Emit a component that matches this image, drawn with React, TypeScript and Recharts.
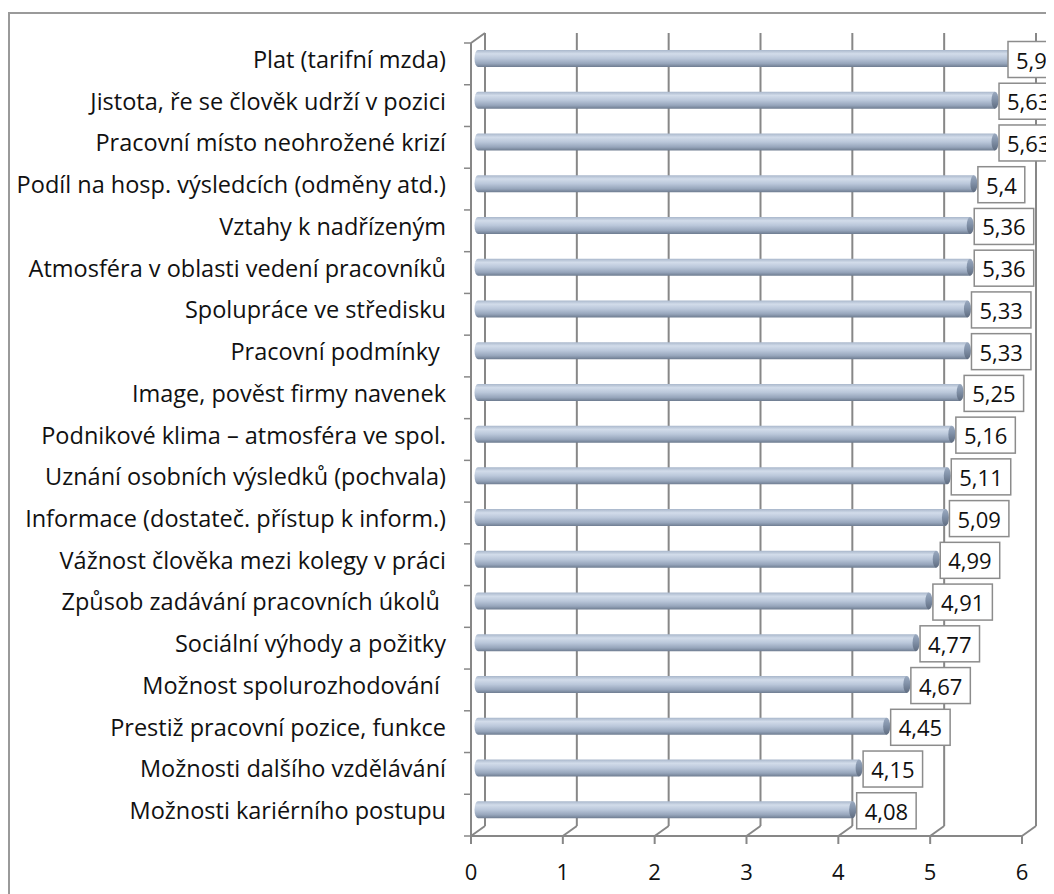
import { Bar, BarChart, CartesianGrid, LabelList, XAxis, YAxis } from "recharts";

const categories = [
  "Plat (tarifní mzda)",
  "Jistota, ře se člověk udrží v pozici",
  "Pracovní místo neohrožené krizí",
  "Podíl na hosp. výsledcích (odměny atd.)",
  "Vztahy k nadřízeným",
  "Atmosféra v oblasti vedení pracovníků",
  "Spolupráce ve středisku",
  "Pracovní podmínky ",
  "Image, pověst firmy navenek",
  "Podnikové klima – atmosféra ve spol.",
  "Uznání osobních výsledků (pochvala)",
  "Informace (dostateč. přístup k inform.)",
  "Vážnost člověka mezi kolegy v práci",
  "Způsob zadávání pracovních úkolů ",
  "Sociální výhody a požitky",
  "Možnost spolurozhodování ",
  "Prestiž pracovní pozice, funkce",
  "Možnosti dalšího vzdělávání",
  "Možnosti kariérního postupu",
];

const scores = [
  5.99, 5.63, 5.63, 5.4, 5.36, 5.36, 5.33, 5.33, 5.25, 5.16, 5.11, 5.09, 4.99,
  4.91, 4.77, 4.67, 4.45, 4.15, 4.08,
];

const xTicks = [0, 1, 2, 3, 4, 5, 6];

const data = categories.map((name, i) => ({ name, score: scores[i] }));

// fake 3D: back wall sits DX/DY away from the front plane, bars halfway
const DX = 14;
const DY = 10;
const LINE = "#878787";
const FONT = "'Open Sans', Lato, sans-serif";
const AXIS_MAX = xTicks[xTicks.length - 1];

const fmt = (v: number) => String(v).replace(".", ",");

function Cylinder(props: any) {
  const { x, y, width, height } = props;
  const bx = x + DX / 2;
  const by = y - DY / 2;
  const ry = height / 2;
  const rx = 3.5;
  return (
    <g>
      <path
        d={`M${bx},${by} H${bx + width} V${by + height} H${bx} A${rx},${ry} 0 0 1 ${bx},${by} Z`}
        fill="url(#cylBody)"
      />
      <ellipse cx={bx + width} cy={by + ry} rx={rx} ry={ry} fill="url(#cylCap)" />
    </g>
  );
}

function ValueBox(props: any) {
  const { x, y, width, height, value } = props;
  const fs = 22;
  const text = fmt(value);
  const textW = [...text].reduce((s, c) => s + (c === "," ? 0.26 : 0.572) * fs, 0);
  const w = textW + 16;
  const h = 36;
  const plotRight = x + (width / value) * AXIS_MAX;
  const bx = Math.min(x + width + DX / 2 + 4, plotRight - DX);
  const cy = y + height / 2 - DY / 2 + 1;
  return (
    <g>
      <rect x={bx} y={cy - h / 2} width={w} height={h} fill="#fff" stroke="#8c8c8c" strokeWidth={1.5} />
      <text
        x={bx + w / 2}
        y={cy}
        textAnchor="middle"
        dominantBaseline="central"
        fontFamily={FONT}
        fontSize={fs}
        fill="#111"
      >
        {text}
      </text>
    </g>
  );
}

function CategoryTick(props: any) {
  const { x, y, payload, index } = props;
  const half = payload.offset ?? 0;
  const top = y - half;
  const bottom = y + half;
  return (
    <g>
      <line x1={x - 7} y1={top} x2={x} y2={top} stroke={LINE} strokeWidth={1.5} />
      {index === categories.length - 1 && (
        <line x1={x - 7} y1={bottom} x2={x} y2={bottom} stroke={LINE} strokeWidth={1.5} />
      )}
      <text
        x={x - 25}
        y={y - DY / 2}
        textAnchor="end"
        dominantBaseline="central"
        fontFamily={FONT}
        fontSize={23.5}
        fill="#111"
        style={{ whiteSpace: "pre" }}
      >
        {payload.value}
      </text>
    </g>
  );
}

function WallLine(props: any) {
  const { x1, y1, y2, index } = props;
  return (
    <g key={`wall-${index}`}>
      <line x1={x1 + DX} y1={y1 - DY} x2={x1 + DX} y2={y2 - DY} stroke={LINE} strokeWidth={2} />
      <line x1={x1 + DX} y1={y2 - DY} x2={x1} y2={y2} stroke={LINE} strokeWidth={2} />
      {index === 0 && (
        <line x1={x1} y1={y1} x2={x1 + DX} y2={y1 - DY} stroke={LINE} strokeWidth={2} />
      )}
    </g>
  );
}

export default function App() {
  return (
    <div style={{ position: "relative", width: 1046, height: 886 }}>
      <div
        style={{
          position: "absolute",
          left: 0,
          top: 4,
          width: 1046,
          height: 882,
          borderTop: "2px solid #9a9a9a",
          borderLeft: "2px solid #9a9a9a",
          boxSizing: "border-box",
        }}
      />
      <BarChart
        width={1046}
        height={886}
        data={data}
        layout="vertical"
        margin={{ top: 35, right: 32, bottom: 0, left: 0 }}
        barCategoryGap={0}
        style={{ position: "absolute", left: 0, top: 0 }}
      >
        <defs>
          <linearGradient id="cylBody" x1="0" y1="0" x2="0" y2="1">
            <stop offset="0%" stopColor="#a9b7cb" />
            <stop offset="22%" stopColor="#d2dcea" />
            <stop offset="50%" stopColor="#bac7da" />
            <stop offset="80%" stopColor="#96a5bb" />
            <stop offset="100%" stopColor="#6e7c90" />
          </linearGradient>
          <linearGradient id="cylCap" x1="0" y1="0" x2="0" y2="1">
            <stop offset="0%" stopColor="#9aa9bf" />
            <stop offset="40%" stopColor="#8494ab" />
            <stop offset="100%" stopColor="#5f6c80" />
          </linearGradient>
        </defs>
        <CartesianGrid horizontal={false} vertical={WallLine} />
        <XAxis
          type="number"
          domain={[0, AXIS_MAX]}
          ticks={xTicks}
          height={58}
          interval={0}
          stroke={LINE}
          strokeWidth={2}
          tickSize={8}
          tickMargin={20}
          tick={{ fill: "#111", fontSize: 22, fontFamily: FONT }}
        />
        <YAxis
          type="category"
          dataKey="name"
          width={463}
          interval={0}
          stroke={LINE}
          strokeWidth={2}
          tickLine={false}
          tickSize={0}
          tickMargin={0}
          tick={<CategoryTick />}
        />
        <Bar dataKey="score" barSize={17} shape={<Cylinder />} isAnimationActive={false}>
          <LabelList dataKey="score" content={<ValueBox />} />
        </Bar>
      </BarChart>
    </div>
  );
}
